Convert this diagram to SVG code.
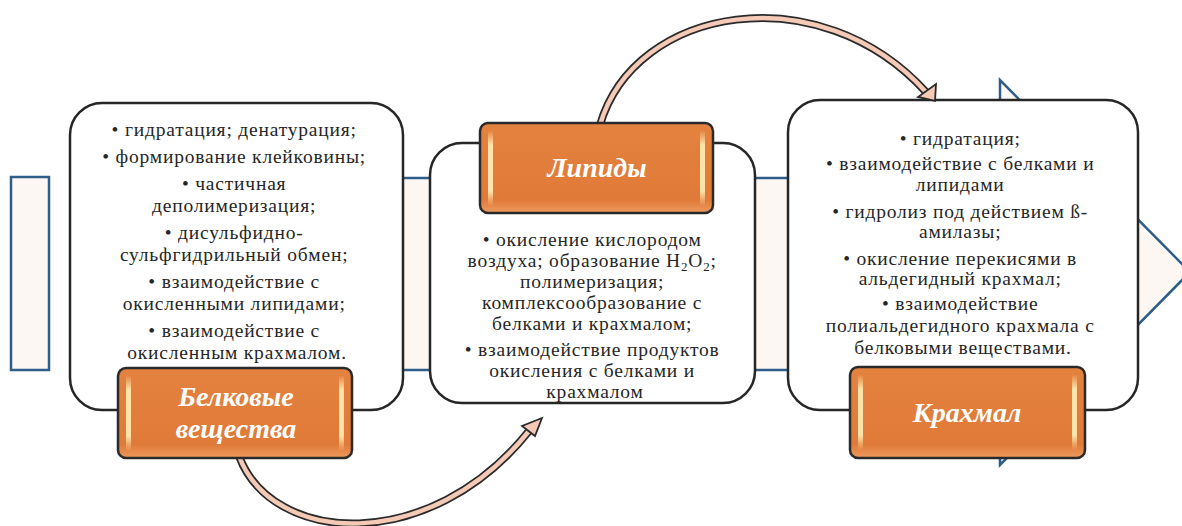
<svg xmlns="http://www.w3.org/2000/svg" width="1182" height="526" viewBox="0 0 1182 526">
  <defs>
    <linearGradient id="orangeFill" x1="0" y1="0" x2="0" y2="1">
      <stop offset="0" stop-color="#E4823F"/>
      <stop offset="0.85" stop-color="#E07A38"/>
      <stop offset="1" stop-color="#EC9A5E"/>
    </linearGradient>
    <linearGradient id="barFill" x1="0" y1="0" x2="0" y2="1">
      <stop offset="0" stop-color="#FFE9B0" stop-opacity="0"/>
      <stop offset="0.2" stop-color="#FFE9B0" stop-opacity="0.95"/>
      <stop offset="0.8" stop-color="#FFE9B0" stop-opacity="0.95"/>
      <stop offset="1" stop-color="#FFE9B0" stop-opacity="0"/>
    </linearGradient>
    <style>
      .bg { fill: #FCF7F3; stroke: #2F5D8A; stroke-width: 2.5; stroke-linejoin: miter; }
      .box { fill: #FFFFFF; stroke: #262626; stroke-width: 2.5; }
      .lbl { fill: url(#orangeFill); stroke: #2A2A2A; stroke-width: 2.5; }
      .bar { fill: url(#barFill); }
      .t { font-family: "Liberation Serif", "Times New Roman", serif; font-size: 19.5px; letter-spacing: 0.8px; fill: #262626; text-anchor: middle; }
      .lt { font-family: "Liberation Serif", "Times New Roman", serif; font-size: 28px; font-weight: bold; font-style: italic; fill: #FFFFFF; text-anchor: middle; }
      .arOut { fill: none; stroke: #2A2A2A; stroke-width: 8; stroke-linecap: butt; }
      .arIn { fill: none; stroke: #F4C9B6; stroke-width: 4.5; stroke-linecap: butt; }
      .arHead { fill: #F4C9B6; stroke: #2A2A2A; stroke-width: 1.8; stroke-linejoin: miter; }
    </style>
  </defs>

  <g id="background-arrow">
    <rect class="bg" x="11" y="177" width="38" height="193"/>
    <polygon class="bg" points="75,178 1000,178 1000,80 1190,272 1000,465 1000,370 75,370"/>
  </g>

  <g id="node-proteins">
    <rect class="box" x="70" y="103" width="333" height="307" rx="32" ry="32"/>
    <text class="t">
      <tspan x="237" y="136">• гидратация; денатурация;</tspan>
      <tspan x="237" y="163">• формирование клейковины;</tspan>
      <tspan x="237" y="190">• частичная</tspan>
      <tspan x="237" y="212">деполимеризация;</tspan>
      <tspan x="237" y="239">• дисульфидно-</tspan>
      <tspan x="237" y="261">сульфгидрильный обмен;</tspan>
      <tspan x="237" y="288">• взаимодействие с</tspan>
      <tspan x="237" y="310">окисленными липидами;</tspan>
      <tspan x="237" y="337">• взаимодействие с</tspan>
      <tspan x="237" y="359">окисленным крахмалом.</tspan>
    </text>
  </g>

  <g id="node-lipids">
    <rect class="box" x="430" y="143" width="325" height="260" rx="32" ry="32"/>
    <text class="t">
      <tspan x="595" y="246">• окисление кислородом</tspan>
      <tspan x="595" y="267">воздуха; образование H<tspan font-size="13" dy="4">2</tspan><tspan dy="-4">O</tspan><tspan font-size="13" dy="4">2</tspan><tspan dy="-4">;</tspan></tspan>
      <tspan x="595" y="288">полимеризация;</tspan>
      <tspan x="595" y="309">комплексообразование с</tspan>
      <tspan x="595" y="330">белками и крахмалом;</tspan>
      <tspan x="595" y="356">• взаимодействие продуктов</tspan>
      <tspan x="595" y="377">окисления с белками и</tspan>
      <tspan x="595" y="398">крахмалом</tspan>
    </text>
  </g>

  <g id="node-starch">
    <rect class="box" x="788" y="100" width="350" height="310" rx="32" ry="32"/>
    <text class="t">
      <tspan x="963" y="145">• гидратация;</tspan>
      <tspan x="963" y="170">• взаимодействие с белками и</tspan>
      <tspan x="963" y="191">липидами</tspan>
      <tspan x="963" y="218">• гидролиз под действием ß-</tspan>
      <tspan x="963" y="238">амилазы;</tspan>
      <tspan x="963" y="265">• окисление перекисями в</tspan>
      <tspan x="963" y="285">альдегидный крахмал;</tspan>
      <tspan x="963" y="310">• взаимодействие</tspan>
      <tspan x="963" y="332">полиальдегидного крахмала с</tspan>
      <tspan x="963" y="354">белковыми веществами.</tspan>
    </text>
  </g>

  <g id="connectors">
    <path class="arOut" d="M239,456 C272,545 430,555 529,431"/>
    <path class="arIn" d="M239,456 C272,545 430,555 529,431"/>
    <polygon class="arHead" points="542,418 535,436 522,426"/>
    <path class="arOut" d="M600,125 C635,5 820,-25 926,92"/>
    <path class="arIn" d="M600,125 C635,5 820,-25 926,92"/>
    <polygon class="arHead" points="935,101 936,84 918,97"/>
  </g>

  <g id="label-proteins">
    <rect class="lbl" x="118" y="368" width="234" height="90" rx="8" ry="8"/>
    <rect class="bar" x="126" y="375" width="5" height="76" rx="2.5"/>
    <rect class="bar" x="339" y="375" width="5" height="76" rx="2.5"/>
    <text class="lt"><tspan x="236" y="406">Белковые</tspan><tspan x="236" y="438">вещества</tspan></text>
  </g>

  <g id="label-lipids">
    <rect class="lbl" x="480" y="123" width="233" height="90" rx="8" ry="8"/>
    <rect class="bar" x="488" y="130" width="5" height="76" rx="2.5"/>
    <rect class="bar" x="700" y="130" width="5" height="76" rx="2.5"/>
    <text class="lt" x="597" y="177">Липиды</text>
  </g>

  <g id="label-starch">
    <rect class="lbl" x="850" y="367" width="235" height="91" rx="8" ry="8"/>
    <rect class="bar" x="858" y="374" width="5" height="76" rx="2.5"/>
    <rect class="bar" x="1072" y="374" width="5" height="76" rx="2.5"/>
    <text class="lt" x="967" y="422">Крахмал</text>
  </g>
</svg>
